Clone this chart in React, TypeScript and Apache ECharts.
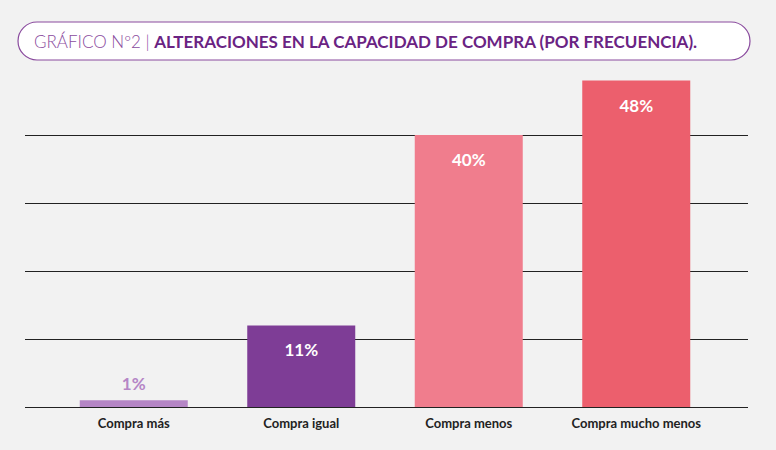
import * as echarts from 'echarts';
import React, { useEffect, useRef } from 'react';

const categories = ['Compra más', 'Compra igual', 'Compra menos', 'Compra mucho menos'];
const values = [1, 12, 40, 48];
const barColors = ['#b586c6', '#7e3d96', '#f07d8d', '#ec5f6d'];
const valueLabels = ['1%', '11%', '40%', '48%'];
const titleLight = 'GRÁFICO Nº2 | ';
const titleBold = 'ALTERACIONES EN LA CAPACIDAD DE COMPRA (POR FRECUENCIA).';

const App = () => {
  const chartRef = useRef<HTMLDivElement>(null);

  useEffect(() => {
    document.body.style.background = '#f2f2f2';
    if (!chartRef.current) return;
    const chart = echarts.init(chartRef.current, undefined, { renderer: 'svg' });
    const lineCol = '#222';
    chart.setOption({
      animation: false,
      backgroundColor: '#f2f2f2',
      textStyle: { fontFamily: 'Lato' },
      graphic: [
        {
          type: 'rect',
          shape: { x: 18, y: 22, width: 732, height: 38, r: 19 },
          style: { fill: '#fff', stroke: '#8a4b9e', lineWidth: 1.2 },
        },
        {
          type: 'text',
          x: 34,
          y: 41,
          style: {
            text: `{light|${titleLight}}{strong|${titleBold}}`,
            verticalAlign: 'middle',
            rich: {
              light: { fontFamily: 'Lato', fontSize: 17, fill: '#8a4b9e', color: '#8a4b9e', fontWeight: 300 },
              strong: { fontFamily: 'Lato', fontSize: 17, fill: '#6a2383', color: '#6a2383', fontWeight: 'bold' },
            },
          },
        },
      ],
      grid: [
        { left: 25, right: 28, top: 67, bottom: 43 },
        { left: 50, right: 56, top: 67, bottom: 43 },
      ],
      xAxis: [
        { gridIndex: 0, type: 'category', data: [''], show: false },
        {
          gridIndex: 1,
          type: 'category',
          data: categories,
          axisLine: { show: false },
          axisTick: { show: false },
          axisLabel: { color: '#222', fontSize: 13, fontWeight: 'bold', margin: 9, interval: 0 },
        },
      ],
      yAxis: [
        {
          gridIndex: 0,
          type: 'value',
          min: 0,
          max: 50,
          interval: 10,
          axisLabel: { show: false },
          axisLine: { show: false },
          axisTick: { show: false },
          splitLine: {
            lineStyle: { color: [lineCol, lineCol, lineCol, lineCol, lineCol, 'transparent'], width: 1 },
          },
        },
        { gridIndex: 1, type: 'value', min: 0, max: 50, interval: 10, show: false },
      ],
      series: [
        { type: 'bar', xAxisIndex: 0, yAxisIndex: 0, data: [] },
        {
          type: 'bar',
          xAxisIndex: 1,
          yAxisIndex: 1,
          barWidth: 108,
          data: values.map((v, i) => ({
            value: v,
            itemStyle: { color: barColors[i] },
            label:
              v < 5
                ? { position: 'top', color: barColors[i], distance: 8 }
                : { position: 'insideTop', color: '#fff', distance: 16 },
          })),
          label: {
            show: true,
            formatter: (p: { dataIndex: number }) => valueLabels[p.dataIndex],
            fontSize: 17,
            fontWeight: 'bold',
            fontFamily: 'Lato',
          },
        },
      ],
    });
    return () => chart.dispose();
  }, []);

  return <div ref={chartRef} style={{ width: 776, height: 450, margin: -8 }} />;
};

export default App;
